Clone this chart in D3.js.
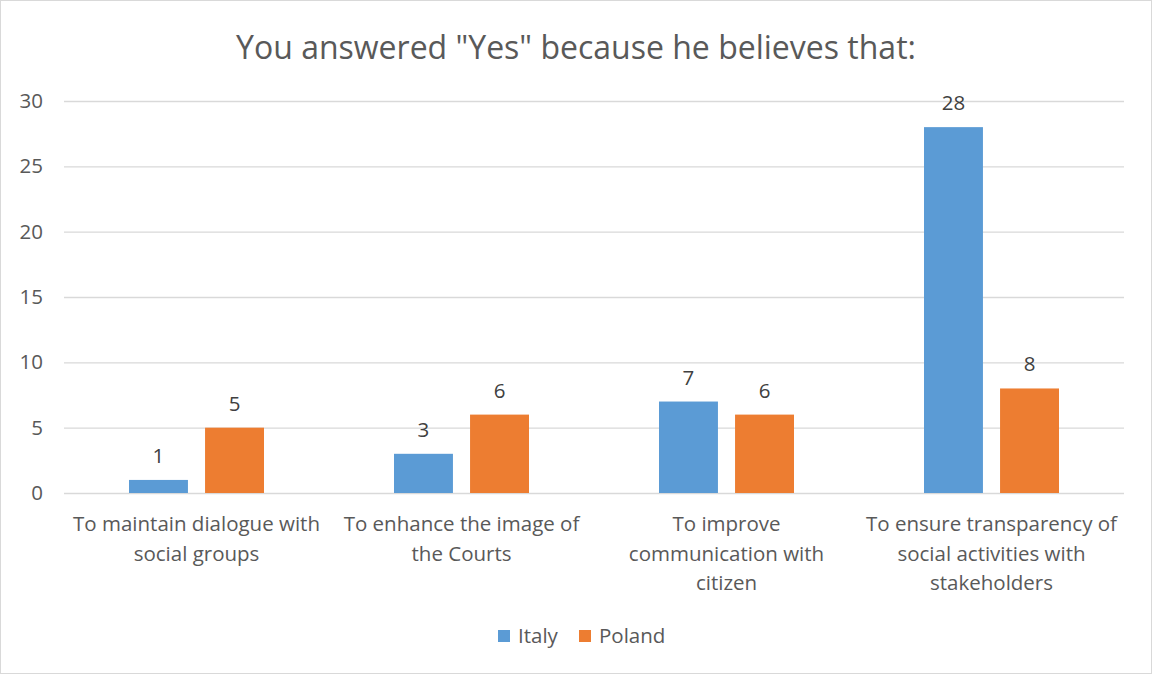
<!DOCTYPE html>
<html>
<head>
<meta charset="utf-8">
<script src="https://cdn.jsdelivr.net/npm/d3@7"></script>
<style>
  html, body { margin: 0; padding: 0; background: #fff; }
  svg { display: block; }
  text { font-family: "Open Sans", "Noto Sans", sans-serif; }
</style>
</head>
<body>
<svg id="chart" width="1153" height="675"></svg>
<script>
// Chart data
const categories = [
  ["To maintain dialogue with", "social groups"],
  ["To enhance the image of", "the Courts"],
  ["To improve", "communication with", "citizen"],
  ["To ensure transparency of", "social activities with", "stakeholders"]
];
const seriesNames = ["Italy", "Poland"];
const italyValues = [1, 3, 7, 28];
const polandValues = [5, 6, 6, 8];
const yTicks = [0, 5, 10, 15, 20, 25, 30];
const colors = ["#5b9bd5", "#ed7d31"];
const title = 'You answered "Yes" because he believes that:';

const svg = d3.select("#chart");
const W = 1153, H = 675;
const plot = { left: 64, right: 1124, top: 101, bottom: 493 };
const fs = 20.5;

// Outer frame
svg.append("rect")
  .attr("x", 0.5).attr("y", 0.5)
  .attr("width", W - 2).attr("height", H - 2)
  .attr("fill", "#fff").attr("stroke", "#d9d9d9").attr("stroke-width", 1);

// Title
svg.append("text")
  .attr("x", 576).attr("y", 59)
  .attr("text-anchor", "middle")
  .attr("font-size", 32)
  .attr("fill", "#595959")
  .text(title);

const idx = d3.range(categories.length);
const x0 = d3.scaleBand().domain(idx).range([plot.left, plot.right]).paddingInner(0).paddingOuter(0);
const groupW = 135;
const x1 = d3.scaleBand().domain(seriesNames).range([0, groupW]).paddingInner(0.225).paddingOuter(0);
const y = d3.scaleLinear().domain([0, 30]).range([plot.bottom, plot.top]);

// Gridlines and y-axis labels
const yAxis = d3.axisLeft(y).tickValues(yTicks).tickSize(-(plot.right - plot.left)).tickPadding(21);
const gy = svg.append("g").attr("transform", `translate(${plot.left},0)`).call(yAxis);
gy.select(".domain").remove();
gy.selectAll(".tick line").attr("stroke", "#d9d9d9").attr("stroke-width", 1.3);
gy.selectAll(".tick text")
  .attr("font-size", fs).attr("fill", "#595959")
  .attr("font-family", "'Open Sans', 'Noto Sans', sans-serif");

// Bars
const data = idx.map(i => ({ i, vals: [italyValues[i], polandValues[i]] }));
const groups = svg.append("g").selectAll("g").data(data).join("g")
  .attr("transform", d => `translate(${x0(d.i) + (x0.bandwidth() - groupW) / 2},0)`);

groups.selectAll("rect").data(d => d.vals.map((v, k) => ({ v, k }))).join("rect")
  .attr("x", d => x1(seriesNames[d.k]))
  .attr("y", d => y(d.v))
  .attr("width", x1.bandwidth())
  .attr("height", d => y(0) - y(d.v))
  .attr("fill", d => colors[d.k]);

groups.selectAll("text.val").data(d => d.vals.map((v, k) => ({ v, k }))).join("text")
  .attr("class", "val")
  .attr("x", d => x1(seriesNames[d.k]) + x1.bandwidth() / 2)
  .attr("y", d => y(d.v) - 17)
  .attr("text-anchor", "middle")
  .attr("font-size", fs)
  .attr("fill", "#404040")
  .text(d => d.v);

// Category labels
const cat = svg.append("g").selectAll("text").data(idx).join("text")
  .attr("x", i => x0(i) + x0.bandwidth() / 2)
  .attr("y", 531)
  .attr("text-anchor", "middle")
  .attr("font-size", fs)
  .attr("fill", "#595959");
cat.selectAll("tspan").data(i => categories[i]).join("tspan")
  .attr("x", function() { return d3.select(this.parentNode).attr("x"); })
  .attr("dy", (d, j) => j === 0 ? 0 : 29.5)
  .text(d => d);

// Legend
const legend = svg.append("g");
const legendItems = [
  { name: seriesNames[0], color: colors[0], x: 498 },
  { name: seriesNames[1], color: colors[1], x: 579 }
];
legendItems.forEach(it => {
  legend.append("rect").attr("x", it.x).attr("y", 630).attr("width", 12).attr("height", 12).attr("fill", it.color);
  legend.append("text").attr("x", it.x + 20).attr("y", 643)
    .attr("font-size", fs).attr("fill", "#595959").text(it.name);
});
</script>
</body>
</html>
